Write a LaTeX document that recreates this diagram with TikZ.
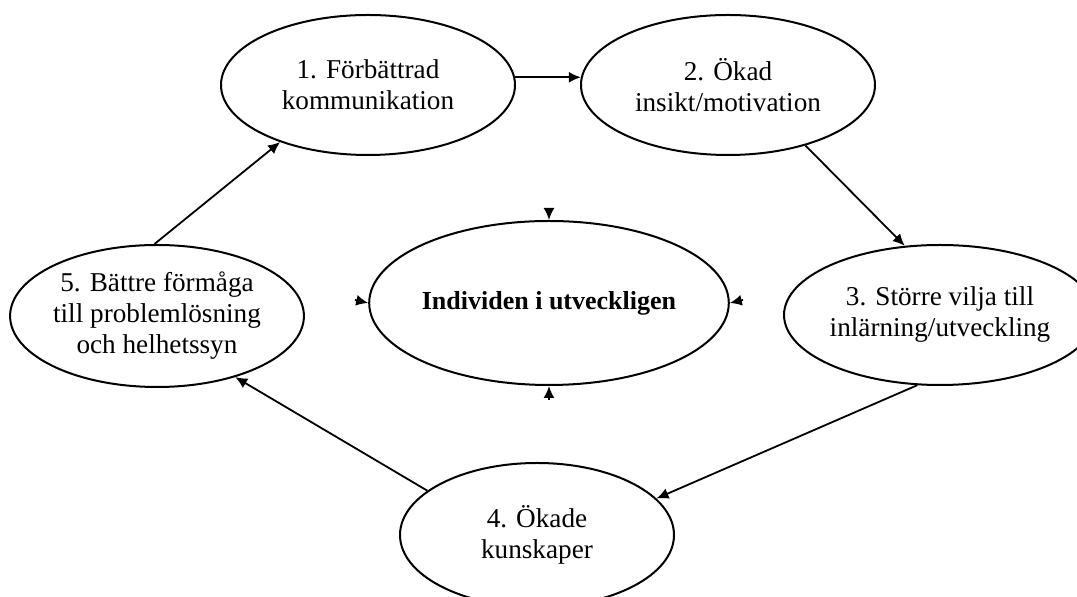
\documentclass[tikz,border=0pt]{standalone}
\usepackage{fontspec}
\setmainfont{Liberation Serif}
\usepackage{tikz}
\usetikzlibrary{arrows.meta,shapes.geometric,positioning}
\tikzset{
    etapp/.style={
        ellipse,
        draw,
        line width=1pt,
        align=center,
        inner sep=0pt,
        minimum width=147pt,
        minimum height=70pt
    },
    centrum/.style={etapp, minimum width=179pt, minimum height=82pt, font=\fontsize{13}{15}\selectfont\bfseries},
    pil/.style={-{Latex[length=6pt,width=5.5pt]}, line width=0.9pt}
}
\begin{document}
\begin{tikzpicture}[x=0.5pt, y=-0.5pt, font=\fontsize{13.6}{15.5}\selectfont]
        \useasboundingbox (0,0) rectangle (1077,597);
        \node[etapp] (forbattrad) at (368,85)
            {1. Förbättrad\\kommunikation};
        \node[etapp] (okad) at (728,85)
            {2. Ökad\\insikt/motivation};
        \node[etapp] (storre) at (940,315)
            {3. Större vilja till\\inlärning/utveckling};
        \node[etapp, minimum width=137pt, minimum height=72pt] (kunskaper) at (537,535)
            {4. Ökade\\kunskaper};
        \node[etapp, minimum width=146pt, minimum height=71pt] (formaga) at (157,316)
            {5. Bättre förmåga\\till problemlösning\\och helhetssyn};
        \node[centrum] (individ) at (549,303) {Individen i utveckligen};
        % pilar runt kretsen
        \draw[pil] (forbattrad.3) -- (okad.177);
        \draw[pil] (okad.-38) -- (storre.117);
        \draw[pil] (storre.-108) -- (kunskaper.17);
        \draw[pil] (kunskaper.158) -- (formaga.-38);
        \draw[pil] (formaga.92) -- (forbattrad.-147);
        % små pilspetsar mot mitten
        \coordinate (ovan) at (549,208);
        \coordinate (nedan) at (549,400);
        \coordinate (vanster) at (355,300);
        \coordinate (hoger) at (743,300);
        \draw[pil] (ovan) -- (individ.north);
        \draw[pil] (nedan) -- (individ.south);
        \draw[pil] (vanster) -- (individ.west);
        \draw[pil] (hoger) -- (individ.east);
    \end{tikzpicture}
\end{document}
